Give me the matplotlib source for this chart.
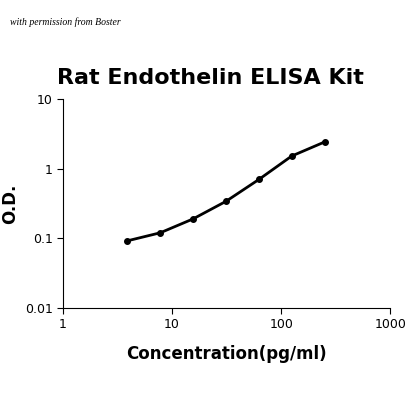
import matplotlib.pyplot as plt

# Standard curve values
concentration = [3.9, 7.8, 15.6, 31.25, 62.5, 125, 250]
od = [0.092, 0.12, 0.19, 0.34, 0.70, 1.52, 2.42]

fig = plt.figure(figsize=(4.2, 4.2), dpi=100)
ax = fig.add_axes([0.15, 0.267, 0.779, 0.497])

ax.plot(concentration, od, color='black', linewidth=2, marker='o', markersize=4)

ax.set_xscale('log')
ax.set_yscale('log')
ax.set_xlim(1, 1000)
ax.set_ylim(0.01, 10)
ax.set_xticks([1, 10, 100, 1000])
ax.set_xticklabels(['1', '10', '100', '1000'])
ax.set_yticks([0.01, 0.1, 1, 10])
ax.set_yticklabels(['0.01', '0.1', '1', '10'])
ax.minorticks_off()
ax.tick_params(labelsize=9, direction='out', length=4)
for s in ['top', 'right']:
    ax.spines[s].set_visible(False)

ax.set_xlabel('Concentration(pg/ml)', fontsize=12, fontweight='bold', labelpad=10)
ax.set_ylabel('O.D.', fontsize=12, fontweight='bold')
fig.text(0.5, 0.815, 'Rat Endothelin ELISA Kit', ha='center', va='center', fontsize=16, fontweight='bold')
fig.text(0.025, 0.94, 'with permission from Boster', fontsize=7, style='italic', family='Liberation Serif')

fig.savefig('out.png', dpi=100)
